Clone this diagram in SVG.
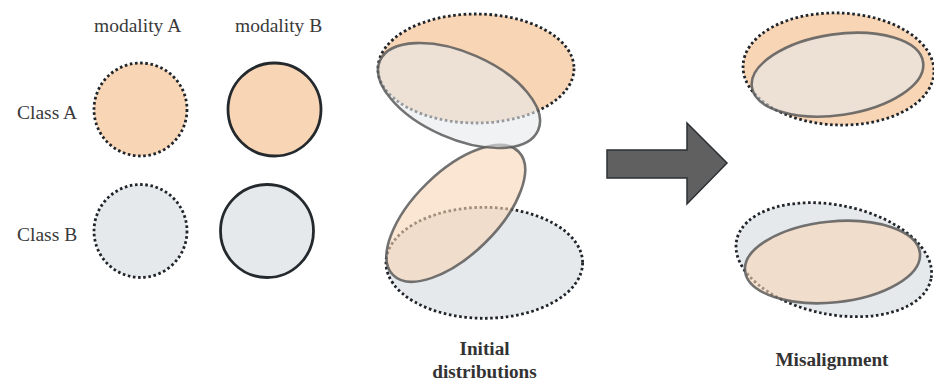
<svg xmlns="http://www.w3.org/2000/svg" width="934" height="381" viewBox="0 0 934 381">
<style>
.lbl{font-family:"Liberation Serif","Times New Roman",serif;font-size:19.5px;fill:#3a3a3a}
.cap{font-family:"Liberation Serif","Times New Roman",serif;font-size:19.2px;font-weight:bold;fill:#333;text-anchor:middle}
.orange{fill:#f8d5b5}
.gray{fill:#e6e9ec}
.dot{stroke:#1f252a;stroke-width:2.8;stroke-dasharray:2.6 2.6}
.solid{stroke:#23292d;stroke-width:2.8}
.tiltG{fill:#e6e9ec;fill-opacity:0.6;stroke:#5a5a5a;stroke-opacity:0.85;stroke-width:2.6}
.tiltO{fill:#f8d5b5;fill-opacity:0.6;stroke:#5a5a5a;stroke-opacity:0.85;stroke-width:2.6}
</style>
<rect width="934" height="381" fill="#ffffff"/>

<g id="labels">
<text class="lbl" x="94" y="32">modality A</text>
<text class="lbl" x="235" y="32">modality B</text>
<text class="lbl" x="17" y="119">Class A</text>
<text class="lbl" x="17" y="241">Class B</text>
</g>

<g id="classA-modA"><circle class="orange dot" cx="140.5" cy="109.5" r="46.5"/></g>
<g id="classA-modB"><circle class="orange solid" cx="274.5" cy="109.5" r="46.5"/></g>
<g id="classB-modA"><circle class="gray dot" cx="140.5" cy="231" r="46.5"/></g>
<g id="classB-modB"><circle class="gray solid" cx="267" cy="231" r="46.5"/></g>

<g id="initial-classB">
<ellipse class="gray dot" cx="484.3" cy="262.8" rx="98.3" ry="55.5"/>
<ellipse class="tiltO" cx="455.8" cy="213.3" rx="88" ry="41.6" transform="rotate(-44.4 455.8 213.3)"/>
</g>
<g id="initial-classA">
<ellipse class="orange dot" cx="476" cy="68.5" rx="98" ry="54.5"/>
<ellipse class="tiltG" cx="459" cy="95.5" rx="86.4" ry="43" transform="rotate(23.7 459 95.5)"/>
</g>
<g id="initial-caption">
<text class="cap" x="484.5" y="355">Initial</text>
<text class="cap" x="484.5" y="377.5">distributions</text>
</g>

<g id="connectors">
<polygon points="607,150 687,150 687,123 727,163 687,204 687,178 607,178" fill="#606060" stroke="#2b3035" stroke-width="1.5" stroke-linejoin="miter"/>
</g>

<g id="misaligned-classA">
<ellipse class="orange dot" cx="838.5" cy="69" rx="95.5" ry="56" transform="rotate(2 838.5 69)"/>
<ellipse class="tiltG" cx="837.5" cy="74.7" rx="86.5" ry="40.5" transform="rotate(-8.3 837.5 74.7)"/>
</g>
<g id="misaligned-classB">
<ellipse class="gray dot" cx="833.8" cy="259.7" rx="99.1" ry="54.7" transform="rotate(11.2 833.8 259.7)"/>
<ellipse class="tiltO" cx="832.5" cy="262" rx="87.9" ry="40.5" transform="rotate(-5.8 832.5 262)"/>
</g>
<g id="misaligned-caption">
<text class="cap" x="832" y="366">Misalignment</text>
</g>
</svg>
